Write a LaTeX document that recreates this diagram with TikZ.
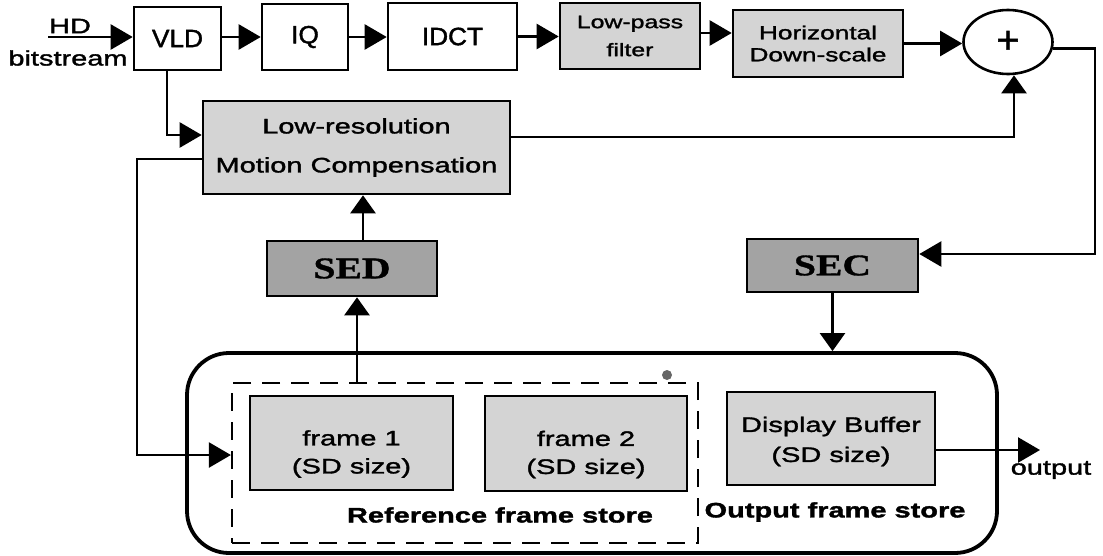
\documentclass[tikz,border=0pt]{standalone}
\usepackage{fontspec}
\setmainfont{Liberation Sans}
\newfontfamily\wsans[FakeStretch=1.38,FakeBold=1.6]{Liberation Sans}
\newfontfamily\nsans[FakeStretch=1.05,FakeBold=1.6]{Liberation Sans}
\newfontfamily\wserif[FakeStretch=1.32,FakeBold=1.2]{Liberation Serif}
\usetikzlibrary{arrows.meta,shapes.geometric,calc}

\begin{document}
\begin{tikzpicture}[x=1pt,y=-1pt,
  arr/.style={line width=2.4pt,-{Triangle[length=22pt,width=25pt]}},
  varr/.style={line width=2.4pt,-{Triangle[length=18pt,width=25pt]}},
  blk/.style={draw,rectangle,line width=2.6pt,inner sep=0pt},
  lite/.style={blk,fill=black!17},
  dark/.style={blk,fill=black!36},
  big/.style={font=\nsans\fontsize{25}{30}\selectfont},
  lbl/.style={font=\wsans\fontsize{21}{28}\selectfont,align=center},
  bold/.style={font=\wsans\bfseries\fontsize{21}{26}\selectfont},
  serb/.style={font=\wserif\bfseries\fontsize{30}{34}\selectfont}]

\useasboundingbox (0,0) rectangle (1103,555);

% decoding chain along the top
\node[blk,big,minimum width=87pt,minimum height=63pt] (vld) at (177.5,38.5) {VLD};
\node[blk,big,minimum width=86pt,minimum height=66pt] (iq) at (305,37) {IQ};
\node[blk,big,minimum width=129pt,minimum height=67pt] (idct) at (452.5,36.5) {IDCT};
\node[lite,align=center,font=\wsans\fontsize{18}{28}\selectfont,
      minimum width=140pt,minimum height=66pt] (lpf) at (630,36) {Low-pass\\filter};
\node[lite,align=center,font=\wsans\fontsize{19}{22}\selectfont,
      minimum width=170pt,minimum height=67pt] (hds) at (818,43.5) {Horizontal\\Down-scale};
\node[draw,ellipse,line width=2.6pt,inner sep=0pt,minimum width=89pt,minimum height=64pt,
      font=\nsans\fontsize{38}{38}\selectfont] (sum) at (1008,42) {+};

% motion compensation and scaling blocks
\node[lite,lbl,font=\wsans\fontsize{21}{39}\selectfont,
      minimum width=307pt,minimum height=93pt] (mc) at (356.5,147.5) {Low-resolution\\Motion Compensation};
\node[dark,serb,minimum width=170pt,minimum height=55pt] (sed) at (352,268.5) {SED};
\node[dark,serb,minimum width=171pt,minimum height=53pt] (sec) at (832.5,265.5) {SEC};

% frame memory
\node[draw,line width=3.8pt,rounded corners=42pt,minimum width=810pt,minimum height=200pt]
      (store) at (592,453) {};
\node[draw,line width=2.2pt,dash pattern=on 18pt off 11pt,minimum width=466pt,minimum height=160pt]
      (rfs) at (465,463) {};
\node[lite,minimum width=203pt,minimum height=94pt,
      label={[lbl,name=f1t,yshift=-11pt]center:frame 1\\(SD size)}] (f1) at (351.5,443) {};
\node[lite,minimum width=202pt,minimum height=95pt,
      label={[lbl,name=f2t,yshift=-11pt]center:frame 2\\(SD size)}] (f2) at (586,443.5) {};
\node[lite,minimum width=208pt,minimum height=93pt,
      label={[lbl,name=dbt,font=\wsans\fontsize{21}{30}\selectfont,yshift=-3pt]center:Display Buffer\\(SD size)}] (db) at (831,438.5) {};
\node[bold] (rfsl) at (500,515) {Reference frame store};
\node[bold] (ofsl) at (835,512) {Output frame store};
\fill[black!60] (667,375) circle (5pt);

% input and output labels
\node[lbl] (hd) at (70,26) {HD};
\node[lbl] (bits) at (68,58) {bitstream};
\node[lbl] (outl) at (1051,470) {output};
\coordinate (in) at (48,37);
\coordinate (out) at (1040,450);

% connectors
\draw[arr] (in) -- (in -| vld.west);
\draw[arr] ([yshift=1.5pt]vld.east) -- ([yshift=1.5pt]vld.east -| iq.west);
\draw[arr] (iq.east) -- (iq.east -| idct.west);
\draw[arr] (idct.east) -- (idct.east -| lpf.west);
\draw[arr] ([yshift=3pt]lpf.east) -- ([yshift=3pt]lpf.east -| hds.west);
\draw[arr] (hds.east) -- (hds.east -| sum.west);
\coordinate (rt) at (1095,254);
\draw[arr] (sum.-8) -| (rt) -- (rt -| sec.east);
\draw[varr] ([yshift=10.5pt]mc.east) -| ([xshift=6pt]sum.south);
\draw[arr] ([xshift=-10.5pt]vld.south) |- ([yshift=12.5pt]mc.west);
\coordinate (fb) at (137,455);
\draw[arr] ([yshift=-11.5pt]mc.west) -| (fb) -- (fb -| rfs.west);
\draw[varr] ([xshift=11pt]sed.north) -- ([xshift=11pt]sed.north |- mc.south);
\draw[varr] ([xshift=5pt]sed.south |- rfs.north) -- ([xshift=5pt]sed.south);
\draw[varr] (sec.south) -- (sec.south |- store.north);
\draw[arr] ([yshift=-11.5pt]db.east) -- (out);
\end{tikzpicture}
\end{document}
